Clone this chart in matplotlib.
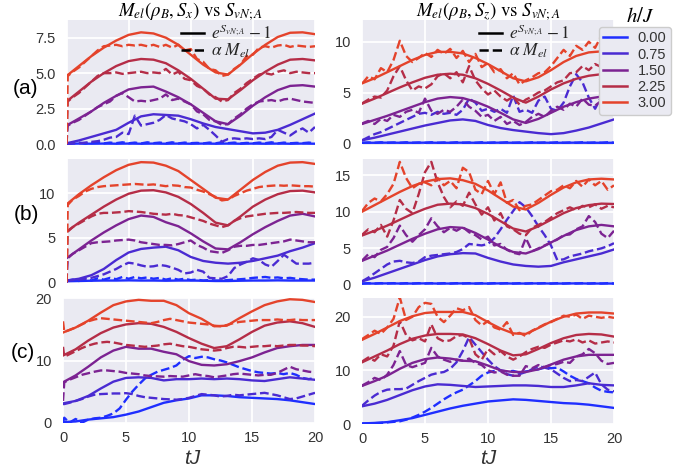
import numpy as np
import matplotlib
matplotlib.use('Agg')
import matplotlib.pyplot as plt
from matplotlib.lines import Line2D

# ---------------- data ----------------
h_labels = ['0.00', '0.75', '1.50', '2.25', '3.00']
colors = ['#1f2eff', '#4a2bd2', '#7c2392', '#b52d47', '#e4432b']

t_solid = np.arange(0, 21, 1.0)                                   # 21 points
t_dash = np.concatenate(([0.0, 0.1], np.arange(0.5, 20.01, 0.5)))  # 42 points

# (a) left : M_el(rho_B, S_x)
a_x_solid = [
    [0.02, 0.03, 0.02, 0.03, 0.02, 0.03, 0.02, 0.03, 0.02, 0.03, 0.02, 0.03, 0.02, 0.03, 0.02, 0.03, 0.02, 0.03, 0.02, 0.03, 0.02],
    [0.05, 0.25, 0.5, 0.75, 1.0, 1.5, 1.95, 2.1, 2.05, 2.0, 1.75, 1.45, 1.2, 1.05, 0.9, 0.75, 0.8, 1.0, 1.35, 1.75, 2.15],
    [1.3, 1.8, 2.3, 2.9, 3.4, 3.85, 4.0, 4.05, 3.7, 3.3, 2.8, 2.2, 1.6, 1.4, 2.0, 2.7, 3.3, 3.8, 4.1, 4.15, 4.05],
    [3.0, 3.7, 4.4, 5.0, 5.5, 5.85, 6.0, 5.95, 5.7, 5.2, 4.6, 3.9, 3.2, 3.15, 3.8, 4.5, 5.1, 5.6, 5.95, 6.0, 5.9],
    [4.8, 5.5, 6.2, 6.8, 7.3, 7.7, 7.88, 7.8, 7.5, 7.0, 6.3, 5.6, 5.05, 4.9, 5.6, 6.35, 7.0, 7.55, 7.85, 7.88, 7.75],
]
a_x_dash = [
    [0.0, 0.02,
     0.05, 0.1, 0.03, 0.08, 0.12, 0.04, 0.1, 0.06, 0.12, 0.05,
     0.1, 0.04, 0.12, 0.06, 0.1, 0.05, 0.12, 0.04, 0.1, 0.06,
     0.08, 0.04, 0.1, 0.05, 0.12, 0.06, 0.1, 0.04, 0.08, 0.05,
     0.1, 0.06, 0.12, 0.04, 0.1, 0.05, 0.08, 0.06, 0.1, 0.05],
    [0.0, 0.0,
     0.05, 0.05, 0.1, 0.15, 0.2, 0.3, 0.45, 0.5, 0.8, 0.7,
     2.0, 1.3, 1.4, 1.5, 1.7, 2.05, 1.8, 1.7, 1.6, 1.4,
     1.1, 1.35, 1.0, 0.6, 0.16, 0.35, 0.4, 0.35, 0.4, 0.35,
     0.4, 0.35, 0.5, 1.0, 0.8, 0.6, 0.9, 1.1, 0.8, 1.2],
    [0.0, 1.3,
     1.5, 1.7, 2.0, 2.3, 2.6, 2.8, 3.0, 3.4, 3.6, 3.3,
     3.0, 3.05, 3.0, 3.1, 3.2, 3.5, 3.1, 3.2, 3.0, 2.8,
     2.3, 2.1, 1.7, 1.6, 1.35, 1.4, 1.8, 2.1, 2.5, 2.8,
     3.0, 3.05, 3.1, 3.0, 3.15, 3.2, 3.1, 3.0, 2.95, 2.9],
    [0.0, 3.0,
     3.3, 3.6, 4.0, 4.4, 4.8, 5.0, 5.0, 5.05, 4.95, 5.0,
     5.05, 5.1, 5.0, 5.05, 5.0, 5.3, 4.9, 5.1, 4.6, 4.5,
     4.1, 3.9, 3.5, 3.3, 3.0, 3.1, 3.6, 3.9, 4.3, 4.6,
     4.9, 5.0, 4.9, 5.1, 5.2, 5.0, 5.1, 5.05, 5.0, 5.0],
    [0.0, 4.8,
     5.1, 5.4, 5.8, 6.2, 6.6, 6.9, 6.95, 7.0, 6.9, 7.0,
     6.95, 7.0, 6.9, 7.0, 6.85, 7.0, 6.8, 7.0, 6.6, 6.7,
     6.0, 5.8, 5.3, 5.2, 4.8, 4.9, 5.3, 5.6, 6.2, 6.3,
     6.8, 6.9, 6.8, 6.95, 7.0, 6.85, 6.95, 6.9, 6.85, 6.9],
]

# (a) right : M_el(rho_B, S_z)
a_z_solid = [
    [0.05, 0.05, 0.06, 0.05, 0.05, 0.06, 0.05, 0.05, 0.06, 0.05, 0.05, 0.06, 0.05, 0.05, 0.06, 0.05, 0.05, 0.06, 0.05, 0.05, 0.05],
    [0.3, 0.55, 0.85, 1.15, 1.45, 1.75, 2.0, 2.25, 2.35, 2.2, 1.8, 1.5, 1.3, 1.15, 1.0, 0.9, 1.0, 1.25, 1.55, 1.95, 2.35],
    [1.9, 2.3, 2.7, 3.15, 3.6, 4.05, 4.4, 4.55, 4.45, 4.1, 3.6, 3.0, 2.35, 2.0, 2.4, 3.0, 3.6, 4.05, 4.4, 4.6, 4.7],
    [3.9, 4.4, 4.95, 5.5, 6.0, 6.45, 6.75, 6.85, 6.75, 6.4, 5.85, 5.2, 4.5, 4.0, 4.6, 5.3, 5.9, 6.35, 6.65, 6.8, 6.85],
    [5.9, 6.4, 7.0, 7.6, 8.2, 8.7, 9.0, 9.0, 8.85, 8.4, 7.8, 7.1, 6.4, 6.1, 6.5, 7.2, 8.0, 8.6, 8.95, 9.05, 9.1],
]
a_z_dash = [
    [0.05, 0.05,
     0.08, 0.05, 0.1, 0.05, 0.08, 0.05, 0.1, 0.05, 0.08, 0.05,
     0.1, 0.05, 0.08, 0.05, 0.1, 0.05, 0.08, 0.05, 0.1, 0.05,
     0.08, 0.05, 0.1, 0.05, 0.08, 0.05, 0.1, 0.05, 0.08, 0.05,
     0.1, 0.05, 0.08, 0.05, 0.1, 0.05, 0.08, 0.05, 0.1, 0.05],
    [0.3, 0.35,
     0.6, 0.9, 1.1, 1.4, 1.7, 2.0, 2.3, 2.6, 2.9, 3.0,
     2.8, 3.1, 2.9, 3.0, 2.8, 3.3, 4.4, 4.0, 3.2, 3.4,
     3.1, 3.4, 3.0, 4.7, 3.1, 3.3, 3.0, 4.2, 4.6, 3.4,
     3.2, 4.0, 5.6, 6.8, 6.0, 4.5, 3.4, 4.6, 6.0, 5.8],
    [1.9, 2.0,
     2.2, 1.9, 2.4, 2.2, 2.8, 2.6, 3.1, 3.3, 3.0, 4.4,
     3.2, 2.9, 3.3, 3.1, 3.6, 4.3, 3.6, 3.2, 2.6, 2.8,
     2.2, 2.6, 1.9, 2.2, 1.8, 2.1, 2.6, 2.9, 2.6, 3.2,
     3.6, 3.3, 3.9, 3.6, 4.4, 3.8, 3.7, 4.2, 4.0, 4.3],
    [3.9, 4.0,
     4.3, 4.6, 4.5, 5.2, 6.6, 7.6, 6.2, 5.2, 5.6, 5.4,
     5.8, 6.6, 6.9, 6.4, 7.0, 6.0, 7.6, 6.2, 5.4, 4.8,
     5.2, 4.6, 4.2, 4.6, 3.8, 4.3, 4.6, 5.0, 5.2, 5.6,
     6.0, 6.2, 6.9, 7.0, 7.6, 7.2, 7.8, 7.5, 7.8, 7.7],
    [5.9, 6.0,
     6.6, 6.3, 7.4, 7.0, 8.2, 10.1, 8.6, 8.0, 8.4, 8.9,
     8.5, 9.2, 8.8, 9.3, 8.4, 9.1, 8.0, 8.8, 7.5, 7.9,
     7.0, 7.3, 6.4, 6.9, 5.8, 6.2, 6.5, 6.9, 7.0, 7.6,
     8.4, 9.2, 8.6, 9.6, 9.2, 10.0, 9.4, 10.6, 9.8, 10.3],
]

# (b) left
b_x_solid = [
    [0.12, 0.15, 0.18, 0.2, 0.2, 0.22, 0.2, 0.2, 0.18, 0.2, 0.2, 0.18, 0.15, 0.15, 0.18, 0.2, 0.2, 0.22, 0.2, 0.2, 0.2],
    [0.2, 0.4, 0.8, 1.5, 2.5, 3.35, 3.75, 3.9, 4.0, 3.6, 2.85, 2.4, 2.2, 2.1, 2.2, 2.4, 2.7, 3.0, 3.5, 3.9, 4.4],
    [2.7, 3.7, 4.7, 5.6, 6.4, 7.1, 7.5, 7.35, 6.75, 6.3, 5.5, 4.6, 3.8, 3.7, 4.5, 5.4, 6.2, 6.9, 7.5, 7.7, 7.4],
    [5.7, 6.7, 7.6, 8.5, 9.3, 9.95, 10.3, 10.35, 10.1, 9.6, 8.8, 7.8, 6.7, 6.4, 7.4, 8.5, 9.3, 9.9, 10.25, 10.3, 10.1],
    [8.75, 9.9, 10.9, 11.8, 12.6, 13.2, 13.5, 13.45, 13.1, 12.5, 11.5, 10.5, 9.5, 9.3, 10.4, 11.5, 12.4, 13.1, 13.45, 13.5, 13.3],
]
b_x_dash = [
    [0.0, 0.2,
     0.3, 0.15, 0.4, 0.2, 0.45, 0.3, 0.5, 0.35, 0.6, 0.4,
     0.6, 0.45, 0.55, 0.4, 0.5, 0.3, 0.45, 0.3, 0.4, 0.25,
     0.3, 0.2, 0.25, 0.2, 0.2, 0.25, 0.3, 0.35, 0.4, 0.5,
     0.55, 0.6, 0.5, 0.55, 0.45, 0.5, 0.4, 0.35, 0.3, 0.3],
    [0.0, 0.2,
     0.25, 0.3, 0.4, 0.5, 0.7, 0.9, 1.2, 1.5, 1.9, 2.2,
     2.1, 1.9, 1.75, 1.8, 1.95, 1.85, 1.65, 1.4, 1.0, 1.1,
     1.4, 1.2, 0.5, 0.45, 0.4, 0.7, 1.6, 2.0, 2.3, 2.7,
     2.5, 2.0, 1.75, 2.4, 3.1, 2.6, 2.1, 2.1, 2.1, 2.2],
    [0.0, 2.7,
     3.2, 3.6, 4.0, 4.4, 4.5, 4.55, 4.6, 4.7, 4.75, 4.8,
     4.7, 4.5, 4.4, 4.3, 4.2, 4.2, 4.15, 4.3, 4.5, 4.7,
     4.2, 3.9, 3.5, 3.4, 3.3, 3.6, 4.0, 4.1, 4.1, 4.2,
     4.2, 4.3, 4.4, 4.5, 4.6, 4.8, 4.7, 4.6, 4.5, 4.5],
    [0.0, 5.7,
     6.2, 6.6, 7.0, 7.4, 7.7, 7.8, 7.8, 7.85, 7.9, 8.0,
     7.95, 7.9, 7.8, 7.7, 7.65, 7.6, 7.7, 7.55, 7.5, 7.3,
     7.1, 6.9, 6.6, 6.4, 6.2, 6.4, 6.9, 7.2, 7.4, 7.5,
     7.6, 7.7, 7.75, 7.8, 7.8, 7.85, 7.9, 7.85, 7.8, 7.8],
    [0.0, 8.7,
     9.3, 9.7, 10.2, 10.5, 10.7, 10.8, 10.85, 10.9, 10.95, 11.0,
     11.05, 11.0, 10.95, 11.0, 10.9, 10.8, 10.9, 10.85, 10.7, 10.65,
     10.4, 10.2, 9.9, 9.6, 9.2, 9.3, 9.7, 10.0, 10.3, 10.5,
     10.7, 10.8, 10.85, 10.9, 10.85, 10.9, 10.85, 10.8, 10.8, 10.75],
]

# (b) right
b_z_solid = [
    [0.2, 0.2, 0.22, 0.2, 0.2, 0.22, 0.2, 0.2, 0.22, 0.2, 0.2, 0.22, 0.2, 0.2, 0.22, 0.2, 0.2, 0.22, 0.2, 0.2, 0.2],
    [0.5, 1.0, 1.6, 2.2, 2.8, 3.4, 3.9, 4.2, 4.35, 4.3, 3.7, 3.2, 2.8, 2.6, 2.5, 2.6, 3.1, 3.5, 3.9, 4.3, 4.85],
    [3.3, 4.0, 4.7, 5.5, 6.3, 7.0, 7.6, 7.9, 7.8, 7.1, 6.2, 5.2, 4.5, 4.3, 4.9, 5.8, 6.7, 7.5, 8.0, 8.2, 8.0],
    [6.75, 7.4, 8.1, 8.9, 9.7, 10.4, 10.95, 11.1, 11.0, 10.5, 9.7, 8.7, 7.7, 7.3, 8.0, 8.9, 9.8, 10.5, 10.9, 11.1, 11.05],
    [10.0, 10.9, 11.8, 12.7, 13.5, 14.1, 14.45, 14.55, 14.3, 13.8, 12.9, 11.8, 10.7, 10.3, 11.2, 12.3, 13.3, 14.0, 14.4, 14.5, 14.4],
]
b_z_dash = [
    [0.2, 0.2,
     0.25, 0.2, 0.25, 0.2, 0.25, 0.2, 0.25, 0.2, 0.25, 0.2,
     0.25, 0.2, 0.25, 0.2, 0.25, 0.2, 0.25, 0.2, 0.25, 0.2,
     0.25, 0.2, 0.25, 0.2, 0.25, 0.2, 0.25, 0.2, 0.25, 0.2,
     0.25, 0.2, 0.25, 0.2, 0.25, 0.2, 0.25, 0.2, 0.25, 0.2],
    [0.5, 0.6,
     1.0, 1.6, 2.2, 2.8, 3.2, 3.3, 3.1, 3.0, 3.2, 3.8,
     4.0, 4.1, 4.2, 4.3, 4.5, 4.9, 5.6, 5.5, 5.4, 5.6,
     6.4, 7.6, 8.9, 10.1, 11.3, 10.6, 9.4, 8.0, 6.8, 5.4,
     3.4, 3.5, 3.9, 4.1, 4.3, 4.6, 4.8, 5.0, 5.3, 5.7],
    [3.3, 3.5,
     4.2, 3.8, 4.8, 5.2, 6.4, 8.1, 6.8, 5.9, 6.8, 7.6,
     9.1, 8.0, 7.2, 7.8, 7.4, 7.9, 7.2, 6.8, 6.2, 6.6,
     5.4, 5.6, 4.8, 4.4, 4.2, 6.4, 4.6, 5.0, 5.4, 5.8,
     6.2, 6.8, 6.9, 7.6, 8.0, 9.4, 8.6, 7.0, 6.4, 7.4],
    [6.8, 7.0,
     7.6, 7.2, 8.2, 6.6, 8.8, 11.6, 10.4, 9.8, 12.4, 15.4,
     16.8, 14.0, 12.0, 10.6, 11.4, 10.8, 12.6, 11.0, 9.6, 10.6,
     8.8, 9.8, 8.0, 7.6, 7.0, 6.8, 7.8, 8.2, 8.6, 9.2,
     9.8, 10.2, 10.6, 10.2, 10.8, 10.6, 11.0, 10.4, 10.8, 10.6],
    [10.0, 10.3,
     11.2, 11.8, 11.4, 12.4, 13.8, 16.8, 14.6, 13.2, 13.8, 14.0,
     13.6, 14.6, 13.6, 14.2, 13.2, 16.0, 15.4, 13.0, 12.4, 14.2,
     12.4, 14.0, 11.2, 11.6, 10.2, 10.8, 11.0, 11.6, 12.2, 12.8,
     13.0, 13.6, 13.2, 14.2, 13.4, 14.4, 13.6, 14.2, 13.0, 13.6],
]

# (c) left
c_x_solid = [
    [0.1, 0.2, 0.5, 0.7, 0.9, 1.3, 1.8, 2.5, 3.2, 3.6, 3.9, 4.4, 4.4, 4.3, 4.1, 4.0, 3.9, 3.8, 3.6, 3.3, 3.0],
    [3.1, 3.5, 4.3, 5.5, 6.6, 7.2, 7.3, 7.2, 6.8, 7.0, 7.0, 7.1, 7.0, 7.1, 7.0, 6.8, 6.7, 7.0, 7.3, 7.1, 6.9],
    [6.5, 7.6, 9.0, 10.5, 11.6, 12.2, 11.9, 11.9, 11.4, 11.0, 9.9, 9.3, 9.2, 9.4, 9.9, 10.5, 11.3, 12.0, 12.3, 12.5, 12.5],
    [10.8, 11.8, 13.2, 14.4, 15.3, 15.8, 16.0, 15.9, 15.4, 14.6, 13.6, 12.7, 12.0, 12.3, 13.4, 14.6, 15.6, 16.1, 16.3, 16.0, 15.4],
    [14.5, 15.3, 16.4, 17.7, 18.9, 19.5, 19.75, 19.6, 19.6, 18.9, 17.6, 16.7, 15.5, 15.6, 16.8, 17.9, 18.9, 19.5, 19.85, 19.75, 19.4],
]
c_x_dash = [
    [0.0, 0.8,
     0.0, 0.6, 0.0, 0.5, 0.7, 0.8, 1.1, 1.5, 2.3, 3.7,
     5.0, 6.1, 7.1, 7.7, 8.2, 8.5, 8.8, 9.2, 10.1, 10.7,
     10.4, 10.6, 10.5, 10.2, 10.0, 9.7, 9.3, 8.9, 8.6, 8.3,
     8.1, 8.0, 7.9, 8.0, 7.8, 8.0, 7.7, 7.2, 7.0, 7.2],
    [3.0, 3.0,
     3.2, 3.5, 3.8, 4.2, 4.5, 4.6, 4.65, 4.7, 4.7, 4.75,
     4.6, 4.3, 4.1, 4.0, 3.9, 3.8, 3.75, 3.7, 3.8, 4.0,
     4.3, 4.6, 4.5, 4.4, 4.2, 4.3, 4.5, 4.4, 4.5, 4.6,
     4.7, 4.8, 4.6, 4.4, 4.1, 3.8, 3.9, 4.2, 4.5, 4.8],
    [3.5, 6.5,
     6.9, 7.3, 7.7, 7.95, 8.2, 8.4, 8.4, 8.3, 8.2, 8.0,
     7.9, 7.8, 7.6, 7.5, 7.45, 7.4, 7.5, 7.45, 7.4, 7.6,
     7.8, 7.6, 7.5, 7.3, 7.45, 7.6, 7.8, 7.9, 7.8, 7.7,
     7.6, 7.7, 7.7, 8.0, 8.5, 9.0, 8.6, 8.4, 8.2, 8.1],
    [12.2, 10.6,
     11.0, 11.5, 12.0, 12.4, 12.7, 12.9, 13.0, 12.9, 12.7, 12.5,
     12.4, 12.3, 12.2, 12.3, 12.4, 12.6, 12.7, 12.5, 12.3, 12.2,
     12.0, 11.8, 11.7, 11.6, 11.7, 12.0, 12.2, 12.2, 12.1, 12.2,
     12.3, 12.3, 12.4, 12.3, 12.4, 12.5, 12.5, 12.4, 12.4, 12.3],
    [16.3, 14.6,
     14.9, 15.3, 15.8, 16.3, 16.6, 16.8, 16.7, 16.6, 16.5, 16.4,
     16.3, 16.2, 16.1, 16.0, 16.2, 16.5, 16.7, 16.5, 16.3, 16.1,
     16.0, 15.9, 15.8, 15.6, 15.5, 15.7, 16.0, 16.2, 16.3, 16.4,
     16.5, 16.5, 16.5, 16.6, 16.5, 16.5, 16.6, 16.5, 16.5, 16.5],
]

# (c) right
c_z_solid = [
    [0.1, 0.2, 0.35, 0.7, 1.1, 1.7, 2.3, 2.9, 3.4, 3.8, 4.2, 4.4, 4.6, 4.5, 4.3, 4.1, 3.9, 3.8, 3.6, 3.3, 3.0],
    [3.3, 3.8, 4.5, 5.4, 6.3, 7.0, 7.4, 7.3, 7.1, 6.9, 7.0, 7.1, 7.2, 7.2, 7.1, 6.9, 6.9, 7.2, 7.6, 7.3, 7.2],
    [7.1, 8.0, 9.0, 10.3, 11.4, 12.1, 12.4, 12.2, 11.8, 11.7, 10.9, 10.0, 9.7, 9.7, 10.2, 11.1, 12.0, 12.6, 12.9, 12.9, 12.9],
    [11.5, 12.6, 13.7, 14.9, 15.9, 16.5, 16.8, 16.8, 16.7, 16.0, 14.9, 13.7, 12.8, 13.0, 14.0, 15.1, 16.0, 16.6, 16.8, 16.7, 16.3],
    [15.7, 16.8, 18.0, 19.2, 20.1, 20.7, 20.9, 20.9, 20.9, 20.3, 19.0, 17.8, 16.9, 16.8, 17.9, 19.1, 20.0, 20.6, 20.8, 20.8, 20.6],
]
c_z_dash = [
    [0.0, 0.1,
     0.1, 0.15, 0.2, 0.3, 0.4, 0.5, 0.8, 1.2, 1.7, 2.3,
     3.0, 3.8, 4.6, 5.3, 5.9, 6.4, 7.2, 8.0, 9.0, 9.6,
     9.9, 10.0, 9.8, 9.9, 9.6, 9.8, 10.0, 10.2, 10.5, 10.4,
     10.5, 9.8, 9.0, 8.4, 8.0, 7.6, 6.8, 6.2, 6.0, 5.9],
    [3.3, 3.6,
     4.4, 5.3, 6.0, 6.4, 6.5, 6.5, 6.6, 7.3, 8.0, 8.6,
     9.2, 9.5, 9.7, 10.3, 11.5, 13.6, 16.2, 14.8, 13.4, 12.0,
     10.8, 10.0, 9.3, 9.0, 9.3, 9.7, 10.2, 10.8, 10.5, 10.2,
     9.4, 8.6, 8.0, 8.2, 8.0, 8.8, 9.6, 7.4, 6.4, 6.1],
    [7.1, 7.3,
     7.8, 8.6, 8.2, 9.2, 11.0, 13.6, 11.0, 10.6, 11.0, 11.4,
     14.2, 12.6, 12.0, 11.6, 12.0, 11.8, 12.2, 11.4, 11.0, 10.0,
     9.6, 9.8, 9.2, 9.0, 9.0, 10.8, 10.4, 11.0, 10.6, 11.0,
     11.2, 11.6, 11.4, 12.6, 13.0, 14.0, 13.2, 11.8, 11.2, 11.4],
    [11.5, 11.8,
     12.4, 11.8, 13.0, 12.6, 14.6, 19.2, 16.6, 15.6, 16.0, 15.4,
     18.6, 16.0, 15.4, 15.6, 16.4, 16.6, 16.0, 13.0, 12.0, 14.0,
     13.0, 13.6, 12.6, 12.0, 12.6, 13.4, 14.0, 14.4, 14.2, 14.8,
     15.2, 15.6, 15.4, 15.8, 15.2, 15.6, 15.0, 15.2, 15.4, 15.2],
    [15.7, 16.0,
     16.6, 17.4, 16.8, 18.0, 19.6, 23.6, 19.4, 20.0, 21.8, 22.6,
     22.4, 20.0, 19.0, 20.2, 21.6, 21.2, 21.8, 19.4, 18.4, 19.2,
     18.0, 17.6, 19.0, 16.6, 17.0, 16.4, 17.4, 18.0, 18.6, 19.0,
     19.6, 20.2, 20.0, 20.4, 19.6, 20.2, 20.0, 19.8, 20.0, 19.8],
]

row_labels = ['(a)', '(b)', '(c)']
titles = [r'$M_{el}(\rho_B, S_x)\ \mathrm{vs}\ S_{vN;A}$',
          r'$M_{el}(\rho_B, S_z)\ \mathrm{vs}\ S_{vN;A}$']
style_labels = [r'$e^{S_{vN;A}}-1$', r'$\alpha\ M_{el}$']
x_ticks = [0, 5, 10, 15, 20]

# ---------------- style ----------------
plt.rcParams.update({
    'font.family': ['Liberation Sans', 'DejaVu Sans'],
    'mathtext.fontset': 'stix',
    'axes.facecolor': '#EAEAF2',
    'axes.edgecolor': 'white',
    'text.color': '#262626',
})
BG = '#EAEAF2'
TXT = '#333333'
W, H = 688, 472
fig = plt.figure(figsize=(W / 100, H / 100), dpi=100)


def add_axes(x0, x1, y0, y1):
    return fig.add_axes([x0 / W, 1 - y1 / H, (x1 - x0) / W, (y1 - y0) / H])


panels = [
    # rect (px)                    ylim            yticks              ytick labels                    solid      dash      xlabels
    ((66.5, 315, 20, 145),     (-0.07, 8.75),  [0, 2.5, 5, 7.5],   ['0.0', '2.5', '5.0', '7.5'],   a_x_solid, a_x_dash, False),
    ((362, 614, 20, 145),      (-0.17, 12.14), [0, 5, 10],         ['0', '5', '10'],               a_z_solid, a_z_dash, False),
    ((66.5, 315, 159.3, 283.3), (-0.11, 13.82), [0, 5, 10],        ['0', '5', '10'],               b_x_solid, b_x_dash, False),
    ((362, 614, 159.3, 285),   (0.0, 17.15),   [0, 5, 10, 15],     ['0', '5', '10', '15'],         b_z_solid, b_z_dash, False),
    ((63, 315, 298.3, 422.7),  (0.0, 20.0),    [0, 10, 20],        ['0', '10', '20'],              c_x_solid, c_x_dash, True),
    ((362, 614, 298, 424),     (0.0, 23.5),    [0, 10, 20],        ['0', '10', '20'],              c_z_solid, c_z_dash, True),
]

axes = []
for rect, ylim, yt, ytl, solid, dash, xlab in panels:
    ax = add_axes(*rect)
    ax.set_facecolor(BG)
    for s in ax.spines.values():
        s.set_visible(False)
    ax.set_axisbelow(True)
    ax.grid(True, color='white', lw=1.3)
    for i in range(5):
        ys = np.asarray(solid[i], dtype=float)
        yd = np.asarray(dash[i], dtype=float)
        assert len(ys) == len(t_solid), (rect, i, len(ys))
        assert len(yd) == len(t_dash), (rect, i, len(yd))
        ax.plot(t_solid, ys, color=colors[i], lw=1.7, solid_joinstyle='round')
        ax.plot(t_dash, yd, color=colors[i], lw=1.7, ls='--')
    ax.set_xlim(0, 20)
    ax.set_ylim(*ylim)
    ax.set_xticks(x_ticks)
    ax.set_yticks(yt)
    ax.set_yticklabels(ytl)
    ax.tick_params(axis='both', length=0, labelsize=10.5, labelcolor=TXT)
    ax.tick_params(axis='y', pad=8)
    ax.tick_params(axis='x', pad=6)
    if not xlab:
        ax.set_xticklabels([])
    axes.append(ax)

# titles
fig.text(190.7 / W, 1 - 11.5 / H, titles[0], ha='center', va='center', fontsize=13.5, color='black')
fig.text(488 / W, 1 - 11.5 / H, titles[1], ha='center', va='center', fontsize=13.5, color='black')

# line-style legends
style_handles = [Line2D([], [], color='black', lw=1.8),
                 Line2D([], [], color='black', lw=1.8, ls='--')]
for ax, xpx in ((axes[0], 181), (axes[1], 479)):
    ax.legend(style_handles, style_labels, loc='upper left',
              bbox_to_anchor=(xpx / W, 1 - 23 / H), bbox_transform=fig.transFigure,
              frameon=False, fontsize=12.5, handlelength=1.35, handletextpad=0.4,
              labelspacing=0.0, borderpad=0, borderaxespad=0)

# h/J legend
color_handles = [Line2D([], [], color=c, lw=1.8) for c in colors]
leg = fig.legend(color_handles, h_labels, loc='upper left',
                 bbox_to_anchor=(599 / W, 1 - 27 / H), bbox_transform=fig.transFigure,
                 fontsize=10.5, handlelength=1.6, handletextpad=0.75, labelspacing=0.15,
                 borderpad=0.3, borderaxespad=0, frameon=True, fancybox=True)
leg.get_frame().set_facecolor(BG)
leg.get_frame().set_edgecolor('#cccccc')
leg.get_frame().set_alpha(1.0)
for txt in leg.get_texts():
    txt.set_color(TXT)
fig.text(640 / W, 1 - 16 / H, r'$h/J$', ha='center', va='center', fontsize=15, color='black')

# row labels
for lab, ypx, xpx in zip(row_labels, (88, 215, 353), (26, 26, 23)):
    fig.text(xpx / W, 1 - ypx / H, lab, ha='center', va='center', fontsize=15, color='black')

# x labels
for xpx in (191.7, 488):
    fig.text(xpx / W, 1 - 458 / H, 'tJ', ha='center', va='center', fontsize=15,
             style='italic', color=TXT)

fig.savefig('out.png', dpi=100, facecolor='white')
